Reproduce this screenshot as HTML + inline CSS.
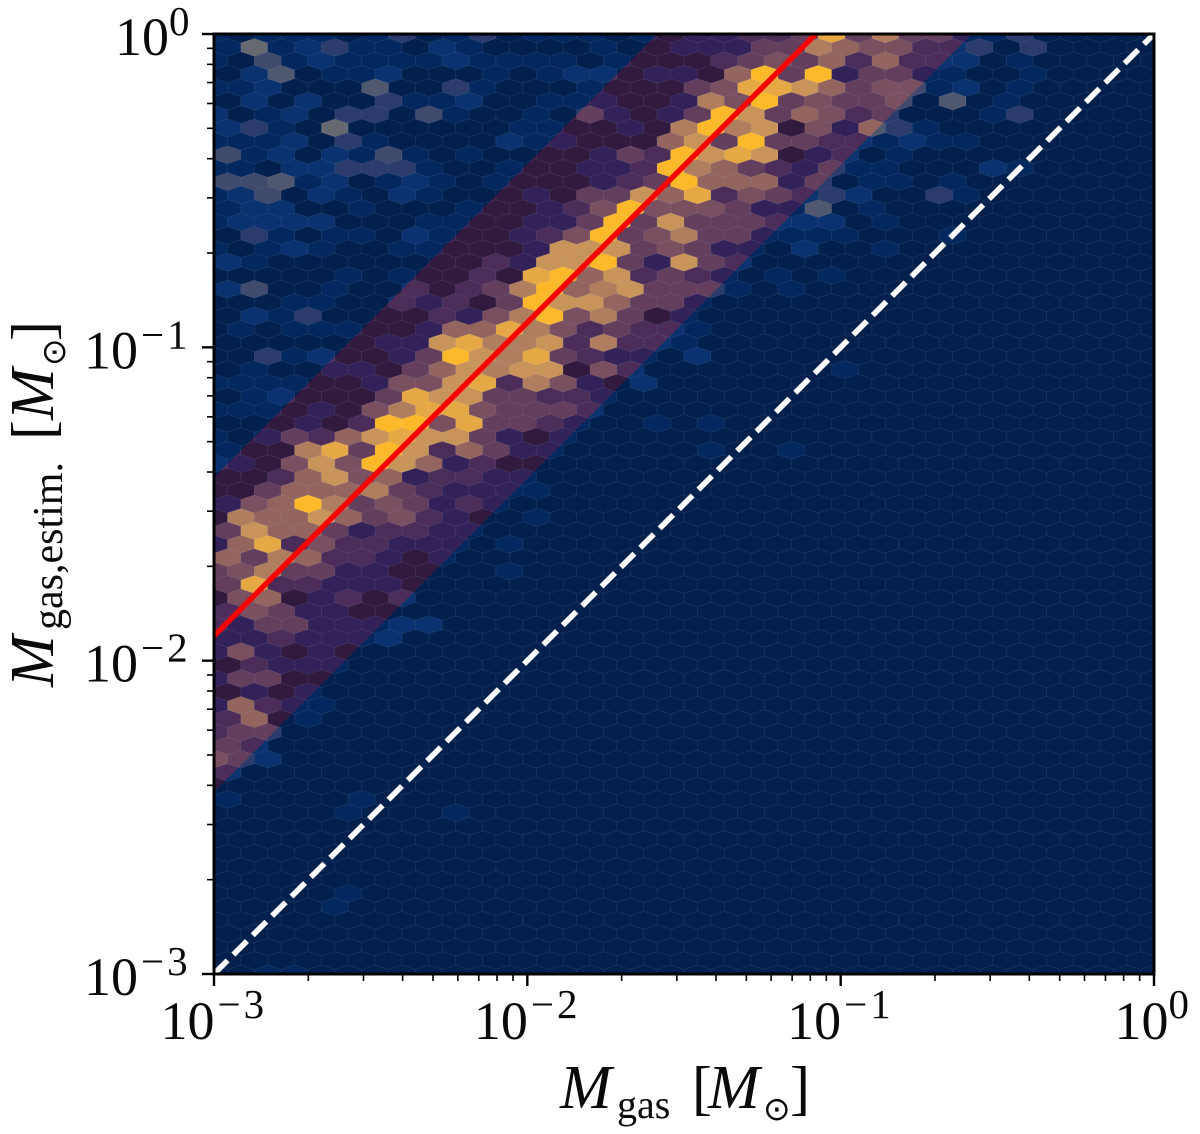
<!DOCTYPE html>
<html lang="en">
<head>
<meta charset="utf-8">
<title>Estimated gas mass vs gas mass</title>
<style>
  html, body { margin: 0; padding: 0; background: #ffffff; }
  svg { display: block; }
  text { font-family: "Liberation Serif", "DejaVu Serif", serif; fill: #0a0a0a; }
</style>
</head>
<body>
<svg id="chart" xmlns="http://www.w3.org/2000/svg" width="1200" height="1134" viewBox="0 0 1200 1134">
  <rect x="0" y="0" width="1200" height="1134" fill="#ffffff"/>
  <defs>
    <clipPath id="axes-clip"><rect x="214" y="34" width="940" height="940"/></clipPath>
    <clipPath id="band-clip"><polygon id="band-polygon" points="0,0"/></clipPath>
  </defs>
  <g id="plot" clip-path="url(#axes-clip)">
    <rect x="214" y="34" width="940" height="940" fill="#02204e"/>
    <g id="hex-base"></g>
    <g clip-path="url(#band-clip)"><g id="hex-band"></g></g>
    <line id="identity-line" stroke="#ffffff" stroke-width="5.6" stroke-dasharray="19.2 8.2"/>
    <line id="fit-line" stroke="#ff0000" stroke-width="5.4"/>
  </g>
  <g id="ticks"></g>
  <rect x="214" y="34" width="940" height="940" fill="none" stroke="#000000" stroke-width="3"/>
  <g id="tick-labels"></g>

  <g>
    <text x="560" y="1108" font-size="62" font-style="italic">M</text>
    <text x="617" y="1118" font-size="40">gas</text>
    <text x="692" y="1108" font-size="60">[</text>
    <text x="708" y="1108" font-size="62" font-style="italic">M</text>
    <text x="763" y="1120" font-size="33" style="font-family:'DejaVu Sans',sans-serif">⊙</text>
    <text x="790" y="1108" font-size="60">]</text>
  </g>
  <g transform="translate(53,687) rotate(-90)">
    <text x="0" y="0" font-size="62" font-style="italic">M</text>
    <text x="57" y="9" font-size="42">gas,estim.</text>
    <text x="247" y="0" font-size="60">[</text>
    <text x="267" y="0" font-size="62" font-style="italic">M</text>
    <text x="321" y="12" font-size="33" style="font-family:'DejaVu Sans',sans-serif">⊙</text>
    <text x="346" y="0" font-size="60">]</text>
  </g>
</svg>
<script>
// Hexbin levels, one string per lattice row from the top axis downward; one digit per cell, absent cells are 0.
const hexRows = [
"1011101301301110101122383633113",
"1612311021000010011133654422303",
"1041211112111101000234352522201",
"0250112000101220110593913311001",
"1120005003100010003488753441201",
"0202003112001110016493433405010",
"2012033041001031013973542300013",
"23106000000110010696704153100",
"11120310000211000573933221211",
"41202141010000132978701201",
"1102233310010011296532131100021",
"4451201210100012395551301101",
"12402102100010337582432320031",
"1220010001001249444311501",
"12222000110011393733322201",
"0310110210012493463311110001",
"10121001100017773431102001",
"210000000021779317320000",
"0000010100208957232101010",
"240010020236956733310100",
"0001100212039775331",
"0213000021469463010",
"0101110015586423221",
"000000117866726221",
"0031200139768321102",
"010011035767704200000001",
"11110014478264102",
"012000387733221",
"111010468843332",
"0001029948332100101",
"10132578773101",
"1006839725311000001001",
"210474975120",
"002574512211",
"0035556321111",
"145963431210",
"0655753421001",
"375531221100",
"158242211101",
"536522101000",
"346331100001",
"38221110",
"045012020",
"24311",
"213311122",
"1121112",
"14101",
"02111",
"133",
"0101",
"15211",
"2501",
"233",
"32",
"432",
"2",
"",
"100001",
"0000010001",
"",
"",
"",
"",
"",
"000001",
"00001",
"",
"",
"",
"",
"0011"
];

// Axis limits and tick values
const xLimits = [0.001, 1];
const yLimits = [0.001, 1];
const majorTickValues = [0.001, 0.01, 0.1, 1];
const tickExponents = ["−3", "−2", "−1", "0"];
const minorTickMultipliers = [2, 3, 4, 5, 6, 7, 8, 9];

// Lines and band edges, in solar masses
const identityMass = [0.001, 1];
const identityEstimate = [0.001, 1];
const fitMass = [0.001, 0.0833];
const fitEstimate = [0.012, 1];
const bandMass = [0.001, 1];
const bandUpper = [0.0385, 38.5];
const bandLower = [0.00381, 3.81];

const SVGNS = "http://www.w3.org/2000/svg";
const plotLeft = 214, plotRight = 1154, plotTop = 34, plotBottom = 974;

function xScale(v) {
  const a = Math.log10(xLimits[0]), b = Math.log10(xLimits[1]);
  return plotLeft + (Math.log10(v) - a) / (b - a) * (plotRight - plotLeft);
}
function yScale(v) {
  const a = Math.log10(yLimits[0]), b = Math.log10(yLimits[1]);
  return plotBottom - (Math.log10(v) - a) / (b - a) * (plotBottom - plotTop);
}

// Colour ramps indexed by hexbin level
const blueRamp = ["#02204e", "#032860", "#0a3270", "#2b3c6c", "#404a6c", "#505870", "#666a70", "#88866e", "#a89c60", "#c8b050"];
const warmRamp = ["#321a3f", "#33215a", "#4c2d5a", "#643f5d", "#7a5060", "#94655f", "#b07e5e", "#c9945a", "#e6a745", "#feb92b"];

const cellWidth = (plotRight - plotLeft) / 35;
const rowStep = cellWidth / 2;

function hexPoints(cx, cy) {
  const w = cellWidth / 2, s = cellWidth / 6, a = cellWidth / 3;
  return [[cx - w, cy - s], [cx, cy - a], [cx + w, cy - s], [cx + w, cy + s], [cx, cy + a], [cx - w, cy + s]]
    .map(function (p) { return p[0].toFixed(2) + "," + p[1].toFixed(2); }).join(" ");
}

const baseLayer = document.getElementById("hex-base");
const bandLayer = document.getElementById("hex-band");

function bandContains(cx, cy) {
  const share = (cx - plotLeft) / (plotRight - plotLeft);
  const top = yScale(bandUpper[0]) + (yScale(bandUpper[1]) - yScale(bandUpper[0])) * share;
  const bot = yScale(bandLower[0]) + (yScale(bandLower[1]) - yScale(bandLower[0])) * share;
  return cy > top - cellWidth && cy < bot + cellWidth;
}

for (let row = 0; row <= 70; row++) {
  const text = hexRows[row] || "";
  const odd = row % 2 === 1;
  const count = odd ? 35 : 36;
  const cy = plotTop + rowStep * row;
  for (let col = 0; col < count; col++) {
    const level = col < text.length ? Number(text[col]) : 0;
    const cx = plotLeft + (odd ? rowStep : 0) + cellWidth * col;
    const cell = document.createElementNS(SVGNS, "polygon");
    cell.setAttribute("points", hexPoints(cx, cy));
    cell.setAttribute("fill", blueRamp[level]);
    cell.setAttribute("stroke", "rgba(255,255,255,0.075)");
    cell.setAttribute("stroke-width", "0.7");
    
    
    baseLayer.appendChild(cell);
    if (bandContains(cx, cy)) {
      const warm = document.createElementNS(SVGNS, "polygon");
      warm.setAttribute("points", hexPoints(cx, cy));
      warm.setAttribute("fill", warmRamp[level]);
      warm.setAttribute("stroke", "rgba(255,255,255,0.07)");
      warm.setAttribute("stroke-width", "0.7");
      
      
      bandLayer.appendChild(warm);
    }
  }
}

document.getElementById("band-polygon").setAttribute("points", [
  xScale(bandMass[0]) + "," + yScale(bandUpper[0]),
  xScale(bandMass[1]) + "," + yScale(bandUpper[1]),
  xScale(bandMass[1]) + "," + yScale(bandLower[1]),
  xScale(bandMass[0]) + "," + yScale(bandLower[0])
].join(" "));

function placeLine(id, xs, ys) {
  const el = document.getElementById(id);
  el.setAttribute("x1", xScale(xs[0]));
  el.setAttribute("y1", yScale(ys[0]));
  el.setAttribute("x2", xScale(xs[1]));
  el.setAttribute("y2", yScale(ys[1]));
}
placeLine("identity-line", identityMass, identityEstimate);
placeLine("fit-line", fitMass, fitEstimate);

// Ticks
const tickLayer = document.getElementById("ticks");
function addTick(x1, y1, x2, y2, width, name) {
  const t = document.createElementNS(SVGNS, "line");
  t.setAttribute("x1", x1);
  t.setAttribute("y1", y1);
  t.setAttribute("x2", x2);
  t.setAttribute("y2", y2);
  t.setAttribute("stroke", "#000000");
  t.setAttribute("stroke-width", width);
  
  
  tickLayer.appendChild(t);
}
majorTickValues.forEach(function (v, i) {
  addTick(xScale(v), plotBottom, xScale(v), plotBottom + 12, 2.4, "x-major-tick");
  addTick(plotLeft - 12, yScale(v), plotLeft, yScale(v), 2.4, "y-major-tick");
  if (i < majorTickValues.length - 1) {
    minorTickMultipliers.forEach(function (m) {
      addTick(xScale(v * m), plotBottom, xScale(v * m), plotBottom + 7, 1.6, "x-minor-tick");
      addTick(plotLeft - 7, yScale(v * m), plotLeft, yScale(v * m), 1.6, "y-minor-tick");
    });
  }
});

// Tick labels
const labelLayer = document.getElementById("tick-labels");
function addLabel(baseX, baseY, supX, supY, exponent, name) {
  const g = document.createElementNS(SVGNS, "text");
  
  
  const base = document.createElementNS(SVGNS, "tspan");
  base.setAttribute("x", baseX);
  base.setAttribute("y", baseY);
  base.setAttribute("font-size", "54");
  base.textContent = "10";
  const sup = document.createElementNS(SVGNS, "tspan");
  sup.setAttribute("x", supX);
  sup.setAttribute("y", supY);
  sup.setAttribute("font-size", "41");
  sup.setAttribute("letter-spacing", "3");
  sup.textContent = exponent;
  g.appendChild(base);
  g.appendChild(sup);
  labelLayer.appendChild(g);
}
majorTickValues.forEach(function (v, i) {
  const exponent = tickExponents[i];
  const negative = exponent.length > 1;
  const supWidth = negative ? 49 : 21;
  const yGap = negative ? 57 : 54;
  const ySupX = 190 - supWidth;
  addLabel(ySupX - yGap, yScale(v) + 21, ySupX, yScale(v) + 1, exponent, "y-tick-label");
  const xBaseX = xScale(v) + 2 - (supWidth + 52) / 2 - 5;
  addLabel(xBaseX, 1039, xBaseX + yGap, 1018, exponent, "x-tick-label");
});
</script>
</body>
</html>
